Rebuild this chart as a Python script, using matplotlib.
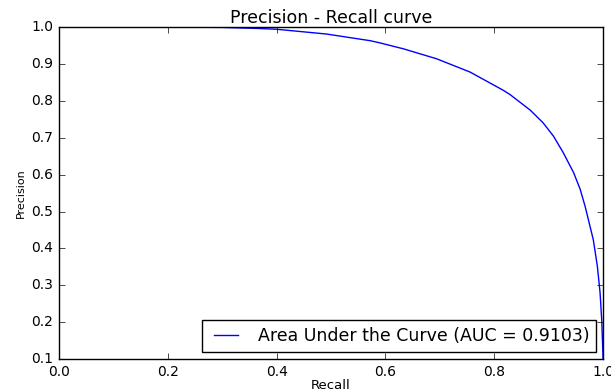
# Curva precision-recall, estilo clásico de matplotlib.

import matplotlib
matplotlib.use("Agg")
import matplotlib.pyplot as plt

# valores
recall = [0.20, 0.25, 0.30, 0.369, 0.40, 0.492, 0.572, 0.590, 0.633,
          0.694, 0.7555, 0.8167, 0.829, 0.866, 0.890, 0.909, 0.927,
          0.946, 0.958, 0.967, 0.973, 0.982, 0.9895, 0.9945, 0.9975,
          0.9995, 1.0]
precision = [1.0, 0.9995, 0.999, 0.996, 0.994, 0.981, 0.963, 0.957, 0.941,
             0.914, 0.878, 0.8285, 0.817, 0.775, 0.740, 0.704, 0.659,
             0.605, 0.560, 0.514, 0.478, 0.424, 0.352, 0.280, 0.207,
             0.126, 0.10]
auc = 0.9103

plt.style.use("classic")
plt.rcParams["figure.facecolor"] = "white"
plt.rcParams["savefig.facecolor"] = "white"
plt.rcParams["xtick.labelsize"] = 10
plt.rcParams["ytick.labelsize"] = 10

fig = plt.figure(figsize=(6.11, 3.92), dpi=100)
ax = fig.add_axes([0.0966, 0.084, 0.8904, 0.847])

ax.plot(recall, precision, color="b", linewidth=1.0,
        label=f"Area Under the Curve (AUC = {auc:.4f})")

ax.set_xlim(0.0, 1.0)
ax.set_ylim(0.1, 1.0)
ax.set_xticks([0.0, 0.2, 0.4, 0.6, 0.8, 1.0])
ax.set_yticks([0.1, 0.2, 0.3, 0.4, 0.5, 0.6, 0.7, 0.8, 0.9, 1.0])

ax.set_title("Precision - Recall curve", fontsize=12.5, pad=3)
ax.set_xlabel("Recall", fontsize=9.5, labelpad=0)
ax.set_ylabel("Precision", fontsize=8, labelpad=4)
ax.legend(loc="lower right", fontsize=12.5, fancybox=False,
          handlelength=2.0, borderaxespad=0.4)

fig.savefig("out.png", dpi=100)
